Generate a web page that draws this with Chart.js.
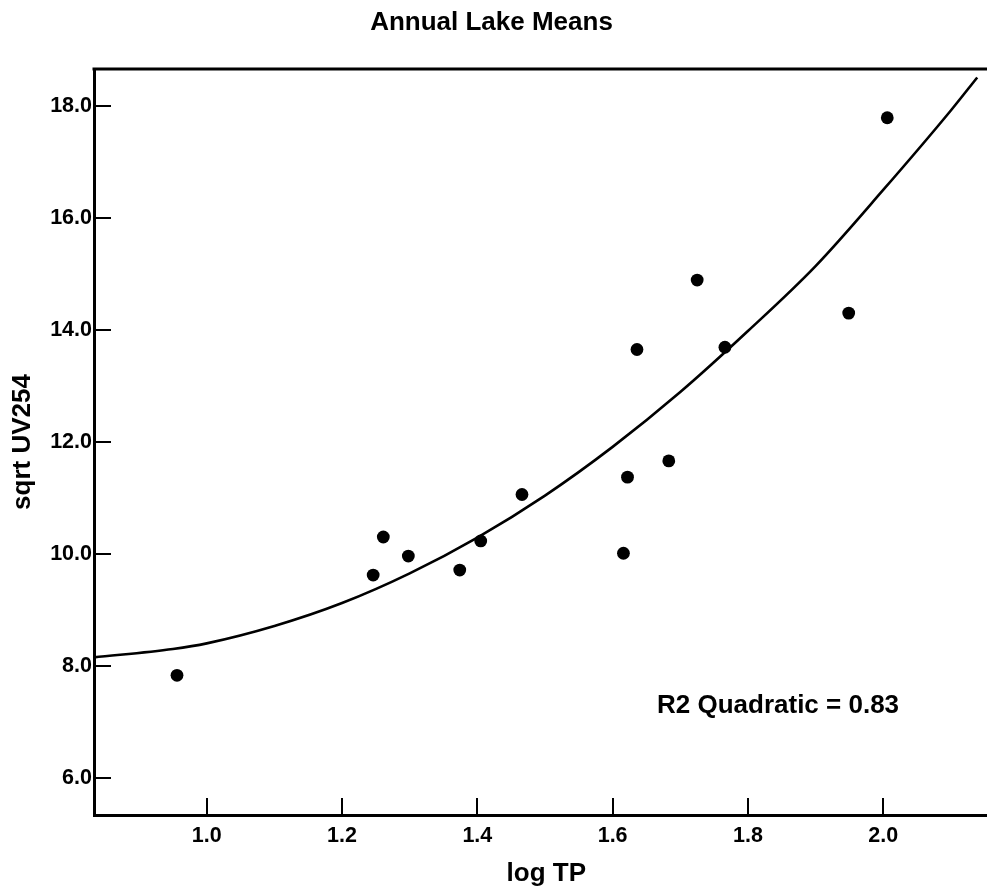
<!DOCTYPE html>
<html>
<head>
<meta charset="utf-8">
<title>Annual Lake Means</title>
<script src="https://cdn.jsdelivr.net/npm/chart.js@4.4.1/dist/chart.umd.min.js"></script>
<style>
  html, body { margin: 0; padding: 0; overflow: hidden; background: #ffffff; }
  canvas { display: block; }
</style>
</head>
<body>
<canvas id="chart" width="1005" height="890"></canvas>
<script>
// Text
const chartTitle = 'Annual Lake Means';
const xAxisTitle = 'log TP';
const yAxisTitle = 'sqrt UV254';
const fitLabel = 'R2 Quadratic = 0.83';

// Annual lake means: log total phosphorus vs. square-root UV254 absorbance
const logTP     = [0.956, 1.246, 1.261, 1.298, 1.374, 1.405, 1.466, 1.616, 1.622, 1.636, 1.683, 1.725, 1.766, 1.949, 2.006];
const sqrtUV254 = [7.83,  9.62,  10.30, 9.96,  9.71,  10.23, 11.06, 10.01, 11.37, 13.65, 11.66, 14.89, 13.69, 14.30, 17.79];

// Quadratic fit line, sampled along log TP
const fitLogTP  = [0.833, 0.95, 1.0,  1.1,  1.2,  1.3,  1.4,   1.5,   1.6,   1.7,   1.8,   1.9,   2.0,   2.1,   2.139];
const fitSqrtUV = [8.15,  8.30, 8.40, 8.71, 9.12, 9.65, 10.29, 11.04, 11.91, 12.89, 13.98, 15.14, 16.50, 17.92, 18.51];

// Axis ticks
const xTicks = [1.0, 1.2, 1.4, 1.6, 1.8, 2.0];
const yTicks = [6, 8, 10, 12, 14, 16, 18];

const FONT = "'Liberation Sans', Arial, Helvetica, sans-serif";
Chart.defaults.font.family = FONT;
Chart.defaults.font.weight = 'bold';
Chart.defaults.color = '#000000';

// Frame top edge, inward tick marks and the text annotations
const decorations = {
  id: 'decorations',
  afterDraw(chart) {
    const { ctx, chartArea: area } = chart;
    const xs = chart.scales.x, ys = chart.scales.y;
    ctx.save();
    ctx.strokeStyle = '#000000';
    ctx.lineCap = 'butt';

    // top edge of the frame
    ctx.lineWidth = 3;
    ctx.beginPath();
    ctx.moveTo(area.left - 1.5, area.top);
    ctx.lineTo(chart.width, area.top);
    ctx.stroke();

    // inward tick marks
    ctx.lineWidth = 2;
    yTicks.forEach(v => {
      const py = Math.round(ys.getPixelForValue(v));
      ctx.beginPath();
      ctx.moveTo(area.left, py);
      ctx.lineTo(area.left + 17, py);
      ctx.stroke();
    });
    xTicks.forEach(v => {
      const px = Math.round(xs.getPixelForValue(v));
      ctx.beginPath();
      ctx.moveTo(px, area.bottom);
      ctx.lineTo(px, area.bottom - 17);
      ctx.stroke();
    });

    // chart title
    ctx.fillStyle = '#000000';
    ctx.font = 'bold 26px ' + FONT;
    ctx.textAlign = 'center';
    ctx.textBaseline = 'alphabetic';
    ctx.fillText(chartTitle, 491.5, 29.5);

    // fit statistic
    ctx.textAlign = 'left';
    ctx.fillText(fitLabel, 657, 713);
    ctx.restore();
  }
};

new Chart(document.getElementById('chart'), {
  type: 'scatter',
  data: {
    datasets: [
      {
        label: 'Annual lake means',
        data: logTP.map((x, i) => ({ x, y: sqrtUV254[i] })),
        backgroundColor: '#000000',
        borderWidth: 0,
        pointRadius: 6.4,
        pointHoverRadius: 6.4,
        order: 1
      },
      {
        label: 'Quadratic fit',
        type: 'line',
        data: fitLogTP.map((x, i) => ({ x, y: fitSqrtUV[i] })),
        borderColor: '#000000',
        borderWidth: 2.6,
        pointRadius: 0,
        fill: false,
        cubicInterpolationMode: 'monotone',
        order: 2
      }
    ]
  },
  options: {
    responsive: false,
    animation: false,
    devicePixelRatio: 1,
    layout: { padding: { top: 69, left: 0, right: 0, bottom: 0 } },
    plugins: {
      legend: { display: false },
      title: { display: false },
      tooltip: { enabled: false }
    },
    scales: {
      x: {
        type: 'linear',
        min: 0.8333,
        max: 2.1706,
        grid: { display: false, drawTicks: false },
        border: { display: true, color: '#000000', width: 3 },
        afterBuildTicks: s => { s.ticks = xTicks.map(v => ({ value: v })); },
        afterFit: s => { s.height = 75; },
        ticks: {
          font: { size: 21.5, weight: 'bold' },
          padding: 8,
          maxRotation: 0,
          autoSkip: false,
          callback: v => v.toFixed(1)
        },
        title: {
          display: true,
          text: xAxisTitle,
          font: { size: 26, weight: 'bold' },
          padding: { top: 0, bottom: 1 }
        }
      },
      y: {
        type: 'linear',
        min: 5.334,
        max: 18.661,
        grid: { display: false, drawTicks: false },
        border: { display: true, color: '#000000', width: 3 },
        afterBuildTicks: s => { s.ticks = yTicks.map(v => ({ value: v })); },
        afterFit: s => { s.width = 94; },
        ticks: {
          font: { size: 21.5, weight: 'bold' },
          padding: 2,
          autoSkip: false,
          callback: v => v.toFixed(1)
        },
        title: {
          display: true,
          text: yAxisTitle,
          font: { size: 26, weight: 'bold' },
          padding: { top: 7, bottom: 0 }
        }
      }
    }
  },
  plugins: [decorations]
});
</script>
</body>
</html>
